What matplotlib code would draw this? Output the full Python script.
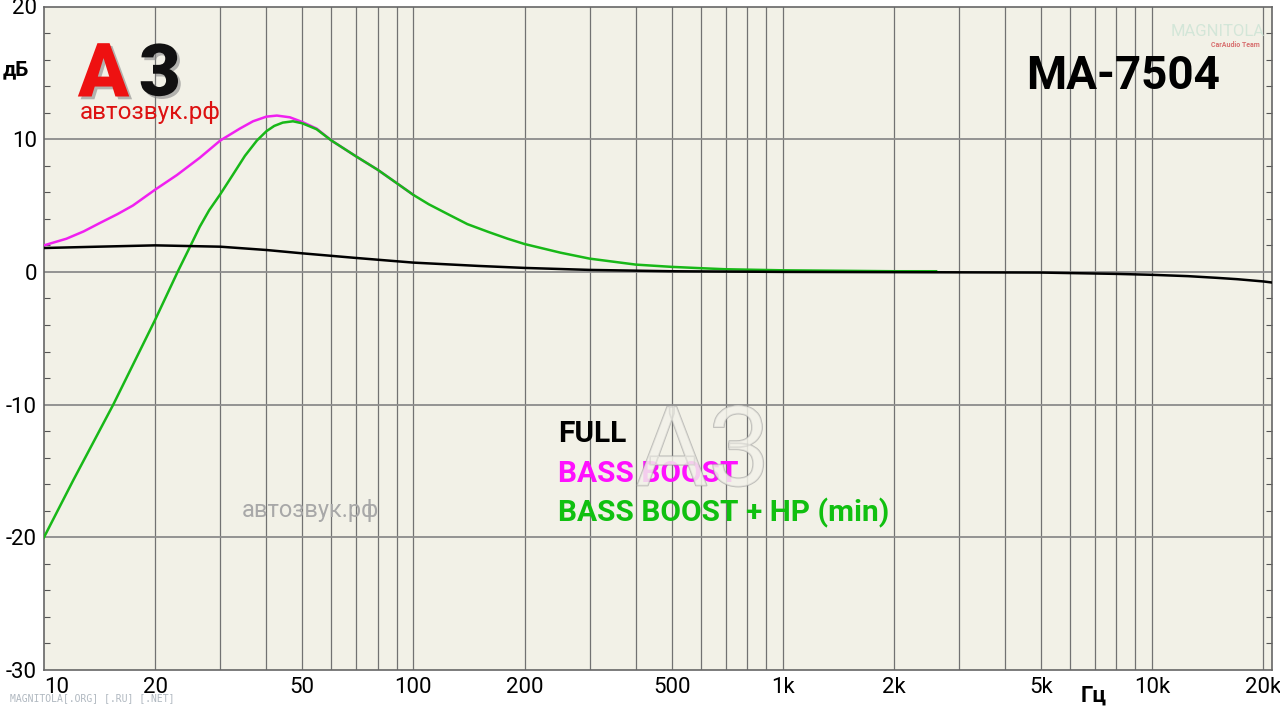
import matplotlib.pyplot as plt
import matplotlib.patheffects as pe
import numpy as np
from matplotlib.ticker import FixedLocator, FixedFormatter, NullFormatter

# frequency response, MA-7504
full_hz = [10, 14, 20, 30, 40, 50, 70, 100, 150, 200, 300, 500, 1000, 2000,
           5000, 8000, 10000, 12500, 15000, 17000, 20000, 21100]
full_db = [1.8, 1.9, 2.0, 1.9, 1.65, 1.4, 1.05, 0.7, 0.45, 0.3, 0.15, 0.05, 0.0, -0.02,
           -0.05, -0.15, -0.22, -0.32, -0.45, -0.55, -0.72, -0.8]

bass_hz = [10, 11.5, 12.8, 14.2, 15.8, 17.4, 20, 22.9, 26.4, 30, 33.9, 36.8, 40, 42.7,
           46.3, 50, 54.7, 60, 70, 80, 90, 100]
bass_db = [2.0, 2.5, 3.05, 3.7, 4.35, 5.0, 6.2, 7.3, 8.6, 9.9, 10.8, 11.35, 11.7, 11.78,
           11.65, 11.3, 10.8, 9.9, 8.7, 7.7, 6.7, 5.8]

hp_hz = [10, 12, 15.4, 20, 23, 24.6, 26.4, 28, 30, 32.5, 35, 37.7, 40, 42, 44.3, 47.2, 50,
         54.7, 60, 70, 80, 90, 100, 110, 125, 140, 160, 180, 200, 250, 300, 400, 500,
         600, 700, 1000, 1500, 2000, 2600]
hp_db = [-20.0, -15.7, -10.0, -3.6, 0.0, 1.65, 3.4, 4.65, 5.85, 7.35, 8.75, 9.9, 10.6, 11.0,
         11.25, 11.35, 11.2, 10.75, 9.9, 8.7, 7.7, 6.7, 5.8, 5.1, 4.3, 3.6, 3.0, 2.5, 2.1,
         1.45, 1.0, 0.55, 0.38, 0.28, 0.2, 0.12, 0.08, 0.05, 0.05]

x_ticks = [10, 20, 50, 100, 200, 500, 1000, 2000, 5000, 10000, 20000]
x_labels = ["10", "20", "50", "100", "200", "500", "1k", "2k", "5k", "10k", "20k"]
y_ticks = [-30, -20, -10, 0, 10, 20]
y_labels = ["-30", "-20", "-10", "0", "10", "20"]

legend_names = ["FULL", "BASS BOOST", "BASS BOOST + HP (min)"]
colors = ["#000000", "#f020f0", "#18b818"]
legend_colors = ["#000000", "#ff10ff", "#10c010"]

font = ["Roboto", "DejaVu Sans"]

fig = plt.figure(figsize=(12.8, 7.08), dpi=100)
ax = fig.add_axes([44 / 1280, 1 - 670 / 708, 1228 / 1280, 663.5 / 708])
ax.set_facecolor("#f2f1e7")

ax.plot(bass_hz, bass_db, color=colors[1], lw=1.8, zorder=3)
ax.plot(hp_hz, hp_db, color=colors[2], lw=1.8, zorder=4)
ax.plot(full_hz, full_db, color=colors[0], lw=1.8, zorder=5)

ax.set_xscale("log")
ax.set_xlim(10, 21100)
ax.set_ylim(-30, 20)

# grid: every 1-9 step per decade vertically, 10 dB horizontally
minor_x = [m * 10 ** d for d in range(1, 5) for m in range(1, 10) if 10 < m * 10 ** d < 21100]
for f in minor_x:
    ax.axvline(f, color="#727272", lw=0.9, zorder=1)
for v in [-20, -10, 0, 10]:
    ax.axhline(v, color="#8c8c8c", lw=1.3, zorder=1)

ax.xaxis.set_major_locator(FixedLocator(x_ticks))
ax.xaxis.set_major_formatter(FixedFormatter(x_labels))
ax.xaxis.set_minor_formatter(NullFormatter())
ax.tick_params(axis="x", which="both", length=0, pad=5)
ax.yaxis.set_major_locator(FixedLocator(y_ticks))
ax.yaxis.set_major_formatter(FixedFormatter(y_labels))
ax.yaxis.set_minor_locator(FixedLocator(np.arange(-30, 21, 2)))
ax.tick_params(axis="y", which="major", length=0, pad=5)
ax.tick_params(axis="y", which="minor", length=4, direction="in", right=True,
               color="#555555", width=0.8)
for lab in ax.get_xticklabels() + ax.get_yticklabels():
    lab.set_fontfamily(font)
    lab.set_fontsize(16)
ax.get_xticklabels()[0].set_horizontalalignment("left")
for s in ax.spines.values():
    s.set_color("#666666")
    s.set_linewidth(1.2)

# axis names
fig.text(3 / 1280, 1 - 70 / 708, "дБ", fontsize=15, fontweight="bold", va="center", ha="left",
         family=font)
fig.text(1094 / 1280, 1 - 696 / 708, "Гц", fontsize=16, fontweight="bold", va="center",
         ha="center", family=font)

# model name
fig.text(1123 / 1280, 1 - 76 / 708, "MA-7504", fontsize=33, fontweight="bold", va="center",
         ha="center", family=font)

# legend as coloured text
for i, (name, c) in enumerate(zip(legend_names, legend_colors)):
    fig.text(558 / 1280, 1 - (434 + 39.5 * i) / 708, name, color=c, fontsize=21.5,
             fontweight="bold", va="center", ha="left", family=font)

# logo top-left
shadow = [pe.withSimplePatchShadow(offset=(2, -2), shadow_rgbFace="#888888", alpha=0.6)]
fig.text(78 / 1280, 1 - 76 / 708, "A", color="#ee1111", fontsize=54, fontweight="heavy",
         va="center", ha="left", family=font, path_effects=shadow)
fig.text(139 / 1280, 1 - 76 / 708, "3", color="#111111", fontsize=52, fontweight="heavy",
         va="center", ha="left", family=font, path_effects=shadow)
fig.text(80 / 1280, 1 - 112 / 708, "автозвук.рф", color="#dd1111", fontsize=17.5,
         va="center", ha="left", family=font)

# watermarks
fig.text(310 / 1280, 1 - 510 / 708, "автозвук.рф", color="#a8a8a8", fontsize=17,
         va="center", ha="center", family=font)
fig.text(703 / 1280, 1 - 455 / 708, "A3", color="#f3f2ea", fontsize=80, va="center",
         ha="center", zorder=10, alpha=0.6, family=font,
         path_effects=[pe.withStroke(linewidth=1.2, foreground="#9a9a9a")])
fig.text(1218 / 1280, 1 - 31 / 708, "MAGNITOLA", color="#d3e6d8", fontsize=12,
         va="center", ha="center", family=font)
fig.text(1260 / 1280, 1 - 45 / 708, "CarAudio Team", color="#d87070", fontsize=5,
         fontweight="bold", va="center", ha="right", family=font)
fig.text(10 / 1280, 1 - 698 / 708, "MAGNITOLA[.ORG] [.RU] [.NET]", color="#b0b8c0",
         fontsize=7, va="center", ha="left", family="DejaVu Sans Mono")

fig.savefig("out.png", dpi=100, facecolor="white")
